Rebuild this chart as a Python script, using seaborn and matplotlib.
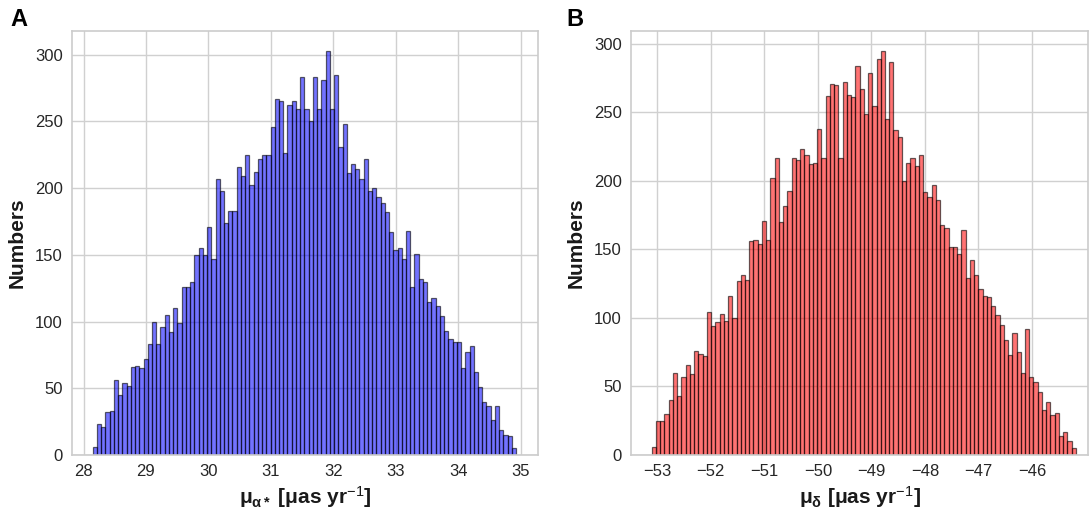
import numpy as np
import pandas as pd
import matplotlib
matplotlib.use("Agg")
import matplotlib.pyplot as plt
import seaborn as sns

# ---- data ----
counts_alpha = [6, 23, 21, 32, 33, 56, 45, 54, 52, 66, 67, 65, 72, 83, 100, 83, 96, 105, 92, 110,
                99, 126, 126, 130, 150, 155, 150, 171, 147, 207, 198, 174, 183, 183, 216, 209, 225, 202, 212, 222,
                225, 225, 246, 267, 265, 226, 262, 265, 259, 283, 259, 250, 283, 259, 281, 303, 259, 285, 231, 248,
                211, 218, 214, 207, 222, 198, 200, 193, 189, 182, 167, 154, 155, 147, 168, 126, 151, 132, 130, 115,
                118, 112, 104, 93, 87, 85, 85, 65, 77, 82, 62, 51, 40, 37, 26, 37, 19, 15, 14, 5]
range_alpha = (28.147, 34.929)

counts_delta = [6, 25, 25, 30, 40, 60, 43, 57, 66, 59, 76, 74, 72, 104, 94, 97, 103, 98, 116, 100,
                127, 131, 128, 156, 157, 154, 171, 157, 202, 217, 170, 182, 193, 217, 215, 223, 219, 212, 213, 238,
                217, 262, 271, 270, 217, 272, 263, 261, 284, 267, 249, 279, 255, 289, 295, 245, 287, 237, 232, 200,
                213, 217, 211, 219, 192, 188, 197, 186, 168, 166, 152, 152, 147, 164, 129, 142, 131, 121, 116, 115,
                109, 102, 95, 84, 73, 89, 75, 60, 92, 57, 53, 46, 33, 39, 29, 31, 14, 17, 10, 5]
range_delta = (-53.105, -45.18)

xticks_alpha = [28, 29, 30, 31, 32, 33, 34, 35]
xticks_delta = [-53, -52, -51, -50, -49, -48, -47, -46]
yticks = [0, 50, 100, 150, 200, 250, 300]

xlabel_alpha = r'$\mathbf{\mu_{\alpha*}}$ [$\mathbf{\mu}$as yr$^{-1}$]'
xlabel_delta = r'$\mathbf{\mu_{\delta}}$ [$\mathbf{\mu}$as yr$^{-1}$]'
ylabel = 'Numbers'
panel_labels = ['A', 'B']

# ---- style ----
sns.set_style('whitegrid')
plt.rcParams['font.family'] = ['Liberation Sans', 'DejaVu Sans']
plt.rcParams['mathtext.fontset'] = 'custom'
plt.rcParams['mathtext.rm'] = 'Liberation Sans'
plt.rcParams['mathtext.it'] = 'Liberation Sans:italic'
plt.rcParams['mathtext.bf'] = 'Liberation Sans:bold'

fig = plt.figure(figsize=(10.91, 5.13), dpi=100)
W, H = 1091, 513
ax1 = fig.add_axes([71.7 / W, (H - 455) / H, (538 - 71.7) / W, (455 - 30.5) / H])
ax2 = fig.add_axes([631 / W, (H - 455) / H, (1088 - 631) / W, (455 - 30.5) / H])


def draw(ax, counts, rng, color, xticks, xlabel, xlim):
    n = len(counts)
    step = (rng[1] - rng[0]) / n
    centers = rng[0] + step * (np.arange(n) + 0.5)
    df = pd.DataFrame({'x': centers, 'w': np.asarray(counts, dtype=float)})
    sns.histplot(data=df, x='x', weights='w', bins=n, binrange=rng, ax=ax, color=color,
                 alpha=0.55, edgecolor=(0, 0, 0, 0.6), linewidth=0.9)
    ax.set_xticks(xticks)
    ax.set_yticks(yticks)
    if xlim is not None:
        ax.set_xlim(*xlim)
    ax.set_xlabel(xlabel, fontsize=15, fontweight='bold', labelpad=4, color='#1a1a1a')
    ax.set_ylabel(ylabel, fontsize=15, fontweight='bold', labelpad=6, color='#1a1a1a')
    ax.tick_params(axis='both', labelsize=12, colors='#262626', pad=3)
    for s in ax.spines.values():
        s.set_color('#cccccc')
        s.set_linewidth(1.2)
    ax.grid(True, color='#d0d0d0', linewidth=1.0)


draw(ax1, counts_alpha, range_alpha, 'blue', xticks_alpha, xlabel_alpha, (27.81, 35.28))
draw(ax2, counts_delta, range_delta, 'red', xticks_delta, xlabel_delta, (-53.491, -44.954))

fig.text(10 / W, 1 - 8 / H, panel_labels[0], fontsize=17, fontweight='bold', va='top', ha='left', color='black')
fig.text(566 / W, 1 - 8 / H, panel_labels[1], fontsize=17, fontweight='bold', va='top', ha='left', color='black')

fig.savefig('out.png', dpi=100)
